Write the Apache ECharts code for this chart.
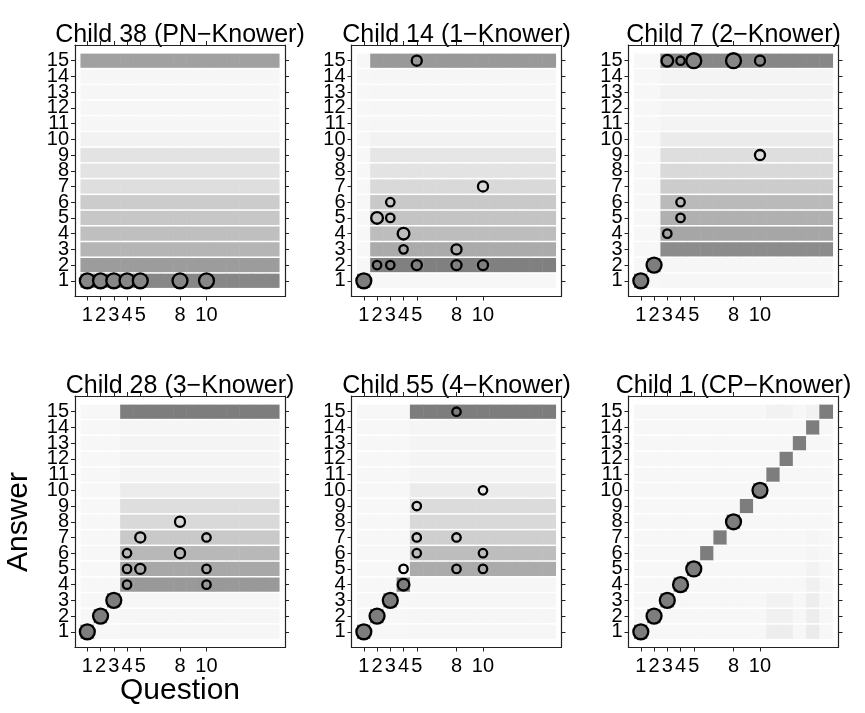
<!DOCTYPE html>
<html><head><meta charset="utf-8">
<script src="https://cdn.jsdelivr.net/npm/echarts@6/dist/echarts.min.js"></script>
<style>html,body{margin:0;padding:0;background:#fff}#c{width:865px;height:713px}</style>
</head><body><div id="c"></div>
<script>
// ---------------- data ----------------
const panelTitles = ['Child 38 (PN\u2212Knower)', 'Child 14 (1\u2212Knower)', 'Child 7 (2\u2212Knower)',
                     'Child 28 (3\u2212Knower)', 'Child 55 (4\u2212Knower)', 'Child 1 (CP\u2212Knower)'];
const questions = [1,2,3,4,5,6,7,8,9,10,11,12,13,14,15];
const answers   = [1,2,3,4,5,6,7,8,9,10,11,12,13,14,15];
const questionTicks = [1,2,3,4,5,8,10];
const answerTicks   = [1,2,3,4,5,6,7,8,9,10,11,12,13,14,15];

// first question at which the predicted answer spread starts (knower level + 1)
const firstSpreadQuestion = [1, 2, 3, 4, 5, 16];
// questions answered "exactly" (diagonal) below the knower level
const knownUpTo = [0, 1, 2, 3, 4, 15];
const idleShade = 0.03;   // darkness of cells with almost no predicted mass
const diagShade = 0.51;   // darkness of the exact-answer cells

// predicted darkness for answers 1..15 in the spread columns
const spreadChild38 = [0.47, 0.39, 0.29, 0.25, 0.22, 0.20, 0.13, 0.11, 0.11, 0.05, 0.035, 0.035, 0.035, 0.035, 0.37];
const spreadChild14 = [0.03, 0.50, 0.33, 0.26, 0.23, 0.21, 0.15, 0.11, 0.10, 0.05, 0.035, 0.035, 0.035, 0.035, 0.40];
const spreadChild7  = [0.035, 0.035, 0.45, 0.35, 0.31, 0.27, 0.20, 0.15, 0.13, 0.08, 0.045, 0.045, 0.05, 0.045, 0.47];
const spreadChild28 = [0.035, 0.035, 0.035, 0.40, 0.34, 0.28, 0.21, 0.15, 0.13, 0.075, 0.045, 0.045, 0.045, 0.04, 0.51];
const spreadChild55 = [0.035, 0.035, 0.035, 0.035, 0.33, 0.26, 0.19, 0.15, 0.14, 0.08, 0.045, 0.045, 0.045, 0.04, 0.51];
const spreadChild1  = null;
// faint extra cells [question, answer, darkness] visible in the CP-knower panel
const faintChild1 = [[11,1,0.07],[12,1,0.07],[11,2,0.06],[12,2,0.06],[11,3,0.05],[12,3,0.05],
                     [14,1,0.08],[14,2,0.07],[14,3,0.07],[14,4,0.06],[14,5,0.05],[14,6,0.04],[14,7,0.04],
                     [11,15,0.05],[12,15,0.05],[14,15,0.05]];

// observed responses [question, answer, count]
const respChild38 = [[1,1,1],[2,1,1],[3,1,1],[4,1,1],[5,1,1],[8,1,1],[10,1,1]];
const respChild14 = [[1,1,1],[2,2,1],[2,5,2],[3,2,1],[3,5,1],[3,6,1],[4,3,1],[4,4,2],
                     [5,2,1],[5,15,1],[8,2,1],[8,3,1],[10,2,1],[10,7,1]];
const respChild7  = [[1,1,1],[2,2,1],[3,4,1],[3,15,2],[4,5,1],[4,6,1],[4,15,1],
                     [5,15,1],[8,15,1],[10,9,1],[10,15,1]];
const respChild28 = [[1,1,1],[2,2,1],[3,3,1],[4,4,1],[4,5,1],[4,6,1],[5,5,1],[5,7,1],
                     [8,6,1],[8,8,1],[10,4,1],[10,5,1],[10,7,1]];
const respChild55 = [[1,1,1],[2,2,1],[3,3,1],[4,4,2],[4,5,1],[5,6,1],[5,7,1],[5,9,1],
                     [8,5,1],[8,7,1],[8,15,1],[10,5,1],[10,6,1],[10,10,1]];
const respChild1  = [[1,1,1],[2,2,1],[3,3,1],[4,4,1],[5,5,1],[8,8,1],[10,10,1]];

// ---------------- build ----------------
const spreads = [spreadChild38, spreadChild14, spreadChild7, spreadChild28, spreadChild55, spreadChild1];
const extras  = [[], [], [], [], [], faintChild1];
const responses = [respChild38, respChild14, respChild7, respChild28, respChild55, respChild1];

function gray(d) { const g = Math.round(255 * (1 - d)); return 'rgb(' + g + ',' + g + ',' + g + ')'; }
function shadeAt(p, q, a) {
  const ex = extras[p].find(e => e[0] === q && e[1] === a);
  if (ex) return ex[2];
  if (q >= firstSpreadQuestion[p]) return spreads[p][a - 1];
  if (q === a && a <= knownUpTo[p]) return diagShade;
  return idleShade;
}

const FONT = '"Liberation Sans", Arial, Helvetica, sans-serif';
const frameLeft = [75, 351.5, 628.5], frameTop = [45, 396];
const frameW = 210, frameH = 251.5;
const xMin = 0.07, xMax = 15.93, yMin = 0, yMax = 16;
// label positions 0..16 on a category axis: blank at both ends
const answerLabelCats = [''].concat(answerTicks.map(String), ['']);

const grids = [], xAxes = [], yAxes = [], series = [], graphics = [];
const axisLine = { show: true, onZero: false, lineStyle: { color: '#222', width: 1.2 } };

for (let p = 0; p < 6; p++) {
  const left = frameLeft[p % 3], top = frameTop[Math.floor(p / 3)];
  grids.push({ left: left, top: top, width: frameW, height: frameH, containLabel: false });
  const tick = { show: true, length: 4, inside: false, lineStyle: { color: '#222', width: 1 } };
  xAxes.push({ gridIndex: p, type: 'value', position: 'bottom', min: xMin, max: xMax,
    axisLine: axisLine, splitLine: { show: false },
    axisTick: Object.assign({ customValues: questionTicks }, tick),
    axisLabel: { customValues: questionTicks, fontSize: 20, color: '#000', fontFamily: FONT, margin: 9,
      showMinLabel: true, showMaxLabel: true } });
  xAxes.push({ gridIndex: p, type: 'value', position: 'top', min: xMin, max: xMax,
    axisLine: axisLine, splitLine: { show: false },
    axisTick: Object.assign({ customValues: questionTicks }, tick),
    axisLabel: { show: false } });
  yAxes.push({ gridIndex: p, type: 'value', position: 'left', min: yMin, max: yMax,
    axisLine: axisLine, splitLine: { show: false },
    axisTick: Object.assign({ customValues: answerTicks }, tick),
    axisLabel: { show: false } });
  yAxes.push({ gridIndex: p, type: 'value', position: 'right', min: yMin, max: yMax,
    axisLine: axisLine, splitLine: { show: false },
    axisTick: Object.assign({ customValues: answerTicks }, tick),
    axisLabel: { show: false } });
  yAxes.push({ gridIndex: p, type: 'category', position: 'left', boundaryGap: false, data: answerLabelCats,
    axisLine: { show: false }, axisTick: { show: false }, splitLine: { show: false },
    axisLabel: { interval: 0, fontSize: 20, color: '#000', fontFamily: FONT, margin: 6 } });

  const cells = [];
  questions.forEach(q => answers.forEach(a => cells.push([q, a, shadeAt(p, q, a)])));
  series.push({
    type: 'custom', xAxisIndex: 2 * p, yAxisIndex: 3 * p, data: cells, silent: true, z: 2,
    encode: { x: 0, y: 1 },
    renderItem: function (params, api) {
      const c = api.coord([api.value(0), api.value(1)]);
      const s = api.size([1, 1]);
      return { type: 'rect',
        shape: { x: c[0] - s[0] / 2 - 0.25, y: c[1] - s[1] / 2 + 0.75, width: s[0] + 0.5, height: s[1] - 1.5 },
        style: { fill: gray(api.value(2)) } };
    }
  });

  const totals = {};
  responses[p].forEach(r => { totals[r[0]] = (totals[r[0]] || 0) + r[2]; });
  series.push({
    type: 'scatter', xAxisIndex: 2 * p, yAxisIndex: 3 * p, z: 3, silent: true,
    symbol: 'circle',
    symbolSize: function (v) { return 7.5 + 9.75 * v[2] - 2.3; },
    itemStyle: { borderColor: '#000', borderWidth: 2.3, opacity: 1 },
    data: responses[p].map(r => ({ value: [r[0], r[1], r[2] / totals[r[0]]],
      itemStyle: { color: gray(shadeAt(p, r[0], r[1])) } }))
  });

  graphics.push({ type: 'text', x: left + frameW / 2, y: top - 10,
    style: { text: panelTitles[p], font: '25px ' + FONT, fill: '#000',
      align: 'center', verticalAlign: 'middle', textAlign: 'center', textVerticalAlign: 'middle' } });
}

graphics.push({ type: 'text', x: 180, y: 691,
  style: { text: 'Question', font: '30px ' + FONT, fill: '#000',
    align: 'center', verticalAlign: 'middle', textAlign: 'center', textVerticalAlign: 'middle' } });
graphics.push({ type: 'text', x: 19, y: 522, rotation: Math.PI / 2,
  style: { text: 'Answer', font: '30px ' + FONT, fill: '#000',
    align: 'center', verticalAlign: 'middle', textAlign: 'center', textVerticalAlign: 'middle' } });

const chart = echarts.init(document.getElementById('c'), null, { renderer: 'canvas', width: 865, height: 713 });
chart.setOption({
  animation: false,
  backgroundColor: '#fff',
  grid: grids, xAxis: xAxes, yAxis: yAxes, series: series,
  graphic: graphics
});
</script>
</body></html>
